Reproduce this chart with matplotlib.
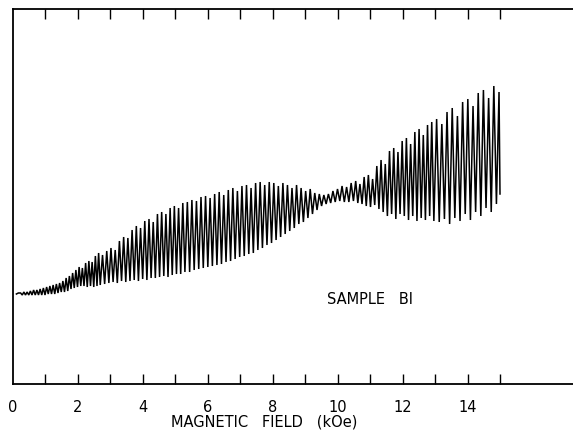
import numpy as np
import matplotlib
matplotlib.use("Agg")
import matplotlib.pyplot as plt

# ---- data (field in kOe, signal in arbitrary units) ----
start_field = [0.12, 0.18]
start_value = [90, 91]

peak_field = [0.25, 0.35, 0.45, 0.55, 0.65, 0.75, 0.85, 0.95, 1.05, 1.15, 1.25, 1.35, 1.45,
              1.55, 1.65, 1.75, 1.85, 1.95, 2.05, 2.15, 2.25, 2.35, 2.45, 2.55, 2.65,
              2.77, 2.90, 3.03, 3.16, 3.29, 3.42, 3.55, 3.68, 3.81, 3.94, 4.07, 4.20, 4.33,
              4.46, 4.59, 4.72, 4.85, 4.98, 5.11, 5.24,
              5.38, 5.52, 5.66, 5.80, 5.94, 6.08, 6.22, 6.36, 6.50, 6.64, 6.78, 6.92, 7.06,
              7.20, 7.34, 7.48, 7.62, 7.76, 7.90, 8.04, 8.18, 8.32, 8.46, 8.60, 8.74, 8.88,
              9.02, 9.16, 9.30, 9.44, 9.58, 9.72, 9.86, 10.00, 10.14, 10.28, 10.42,
              10.56, 10.69, 10.82, 10.95, 11.08, 11.21, 11.34, 11.47, 11.60, 11.73, 11.86,
              11.99, 12.12, 12.25, 12.38, 12.51, 12.64, 12.77, 12.90,
              13.05, 13.21, 13.37, 13.53, 13.69, 13.85, 14.01, 14.17, 14.33, 14.49, 14.65,
              14.81, 14.97]
peak_value = [91, 92, 92, 93, 94, 94, 95, 96, 97, 98, 99, 100, 101,
              103, 106, 108, 111, 114, 117, 116, 121, 123, 122, 128, 131,
              129, 133, 136, 134, 143, 147, 146, 154, 158, 156, 163, 165, 162,
              170, 172, 170, 176, 178, 176, 181,
              182, 184, 183, 187, 188, 186, 190, 192, 189, 194, 196, 193, 198,
              199, 196, 201, 202, 199, 202, 201, 198, 201, 199, 196, 199, 196,
              193, 195, 191, 190, 189, 190, 193, 195, 198, 197, 201,
              203, 200, 207, 209, 205, 218, 224, 220, 233, 236, 232,
              243, 246, 240, 252, 255, 249, 259, 262,
              265, 260, 272, 276, 268, 282, 285, 278, 291, 294, 286,
              298, 292]
trough_field = [0.30, 0.40, 0.50, 0.60, 0.70, 0.80, 0.90, 1.00, 1.10, 1.20, 1.30, 1.40, 1.50,
                1.60, 1.70, 1.80, 1.90, 2.00, 2.10, 2.20, 2.30, 2.40, 2.50, 2.60, 2.70,
                2.835, 2.965, 3.095, 3.225, 3.355, 3.485, 3.615, 3.745, 3.875, 4.005, 4.135,
                4.265, 4.395, 4.525, 4.655, 4.785, 4.915, 5.045, 5.175, 5.305,
                5.45, 5.59, 5.73, 5.87, 6.01, 6.15, 6.29, 6.43, 6.57, 6.71, 6.85, 6.99, 7.13,
                7.27, 7.41, 7.55, 7.69, 7.83, 7.97, 8.11, 8.25, 8.39, 8.53, 8.67, 8.81, 8.95,
                9.09, 9.23, 9.37, 9.51, 9.65, 9.79, 9.93, 10.07, 10.21, 10.35, 10.49,
                10.625, 10.755, 10.885, 11.015, 11.145, 11.275, 11.405, 11.535, 11.665,
                11.795, 11.925, 12.055, 12.185, 12.315, 12.445, 12.575, 12.705, 12.835, 12.965,
                13.13, 13.29, 13.45, 13.61, 13.77, 13.93, 14.09, 14.25, 14.41, 14.57, 14.73,
                14.89, 15.00]
trough_value = [89, 89, 89, 89, 89, 89, 89, 89, 90, 90, 90, 91, 92,
                92, 93, 95, 96, 97, 98, 98, 97, 98, 97, 98, 99,
                100, 101, 102, 101, 103, 102, 103, 104, 103, 105, 104,
                106, 106, 107, 108, 107, 109, 110, 110, 112,
                112, 114, 115, 116, 117, 118, 119, 120, 122, 123, 125, 127, 128,
                130, 131, 134, 136, 139, 141, 144, 147, 150, 153, 156, 160, 162,
                166, 170, 174, 178, 180, 181, 182, 183, 182, 182, 183,
                181, 180, 178, 177, 179, 175, 172, 168, 170,
                165, 170, 168, 164, 168, 163, 166, 164, 168, 163,
                162, 165, 160, 166, 163, 170, 164, 172, 168, 176, 172,
                180, 190]

tick_fields = list(range(1, 16))
label_fields = [0, 2, 4, 6, 8, 10, 12, 14]
label_texts = ["0", "2", "4", "6", "8", "10", "12", "14"]

# ---- assemble the trace: start, then peak/trough alternating ----
field = list(start_field)
value = list(start_value)
for pf, pv, tf, tv in zip(peak_field, peak_value, trough_field, trough_value):
    field += [pf, tf]
    value += [pv, tv]

fig = plt.figure(figsize=(5.73, 4.35), dpi=100)
ax = fig.add_axes([12.5 / 573, 50 / 435, 1 - 12.5 / 573, 375 / 435])
ax.plot(field, value, color="black", lw=1.1, solid_joinstyle="miter")

ax.set_xlim(0, (573 - 12.5) / 32.5)
ax.set_ylim(0, 375)

for s in ["left", "top", "bottom"]:
    ax.spines[s].set_linewidth(1.3)
ax.spines["right"].set_visible(False)

ax.xaxis.remove_overlapping_locs = False
ax.set_yticks([])
ax.set_xticks(tick_fields)
ax.set_xticklabels([])
ax.tick_params(axis="x", which="major", direction="in", top=True, bottom=True,
               length=7.5, width=1.0)
ax.set_xticks(label_fields, minor=True)
ax.set_xticklabels(label_texts, minor=True, fontsize=10.5)
ax.tick_params(axis="x", which="minor", length=0, pad=11, top=False, bottom=True)

fig.text(264 / 573, 1 - 422 / 435, "MAGNETIC   FIELD   (kOe)", ha="center", va="center",
         fontsize=10.5)
ax.text(11.0, 85, "SAMPLE   BI", ha="center", va="center", fontsize=10.5)

fig.savefig("out.png", dpi=100)
